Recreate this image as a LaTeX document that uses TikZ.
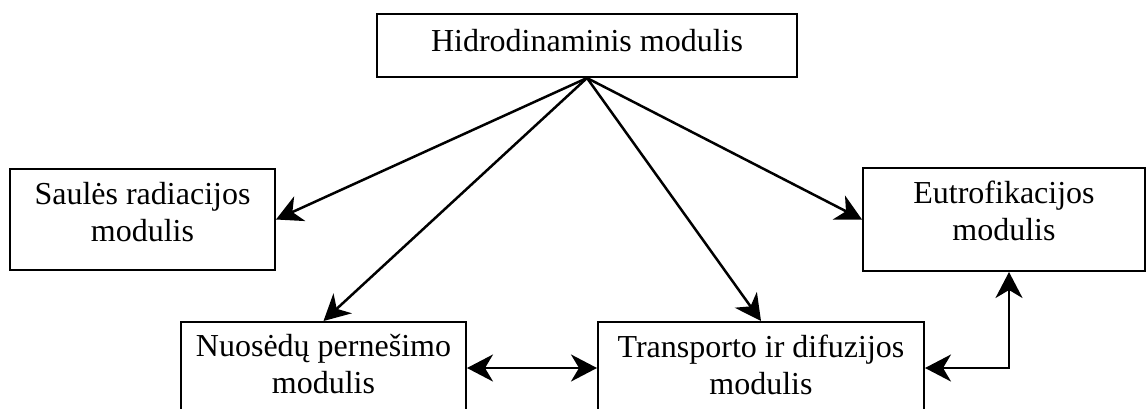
\documentclass[tikz,border=0pt]{standalone}
\usepackage{fontspec}
\setmainfont{Liberation Serif}
\usetikzlibrary{arrows.meta}
\begin{document}
\begin{tikzpicture}[x=1pt,y=-1pt,
  box/.style={draw, line width=2pt, rectangle, inner sep=0pt},
  txt/.style={font=\fontsize{32}{37}\selectfont, align=center, inner sep=0pt},
  arr/.style={line width=2.5pt, -{Stealth[length=26pt,width=27pt,inset=8pt]}},
  darr/.style={line width=2.5pt, {Stealth[length=26pt,width=27pt,inset=8pt]}-{Stealth[length=26pt,width=27pt,inset=8pt]}}]
\useasboundingbox (0,0) rectangle (1146,408);
\clip (0,0) rectangle (1146,408);

% boxes
\node[box, minimum width=420pt, minimum height=63pt] (hidro) at (587,45.5) {};
\node[box, minimum width=265pt, minimum height=101pt] (saules) at (142.5,219.5) {};
\node[box, minimum width=282pt, minimum height=103pt] (eutro) at (1004,219.5) {};
\node[box, minimum width=285pt, minimum height=92pt] (nuos) at (323.5,368) {};
\node[box, minimum width=326pt, minimum height=92pt] (trans) at (761,368) {};

% texts
\node[txt] (hidroT) at (587,41) {Hidrodinaminis modulis};
\node[txt] (saulesT) at (142.5,212.5) {Saulės radiacijos\\modulis};
\node[txt] (eutroT) at (1004,210.5) {Eutrofikacijos\\modulis};
\node[txt] (nuosT) at (323.5,364) {Nuosėdų pernešimo\\modulis};
\node[txt] (transT) at (761,365) {Transporto ir difuzijos\\modulis};

% connectors
\draw[arr] (hidro.south) -- (saules.east);
\draw[arr] (hidro.south) -- (nuos.north);
\draw[arr] (hidro.south) -- (trans.north);
\draw[arr] (hidro.south) -- (eutro.west);
\draw[darr] (nuos.east) -- (trans.west);
\coordinate (eb) at ([xshift=5pt]eutro.south);
\draw[darr] (trans.east) -| (eb);
\end{tikzpicture}
\end{document}
